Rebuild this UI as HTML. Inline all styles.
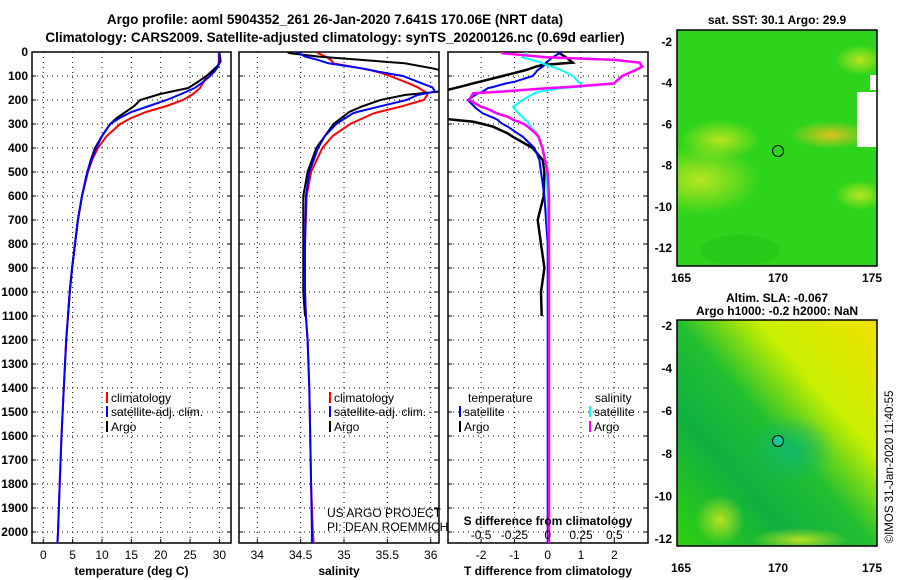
<!DOCTYPE html>
<html><head><meta charset="utf-8"><style>
body{margin:0;background:#fff;}
svg{display:block;font-family:"Liberation Sans",sans-serif;font-weight:bold;}
</style></head><body>
<svg id="c" width="900" height="580" viewBox="0 0 900 580">
<defs>
<radialGradient id="y1"><stop offset="0" stop-color="#d0e820" stop-opacity="0.85"/><stop offset="1" stop-color="#d0e820" stop-opacity="0"/></radialGradient>
<radialGradient id="y2"><stop offset="0" stop-color="#f0c020" stop-opacity="0.9"/><stop offset="1" stop-color="#f0c020" stop-opacity="0"/></radialGradient>
<radialGradient id="t1"><stop offset="0" stop-color="#10b868"/><stop offset="1" stop-color="#10b868" stop-opacity="0"/></radialGradient>
<linearGradient id="sla" x1="1" y1="0" x2="0" y2="1"><stop offset="0" stop-color="#f0e000"/><stop offset="0.3" stop-color="#c8f000"/><stop offset="0.5" stop-color="#22c030"/><stop offset="0.7" stop-color="#10b040"/><stop offset="1" stop-color="#30d010"/></linearGradient>
<clipPath id="cp1"><rect x="32" y="52" width="199" height="491"/></clipPath>
<clipPath id="cp2"><rect x="239" y="52" width="200" height="491"/></clipPath>
<clipPath id="cp3"><rect x="448" y="52" width="200" height="491"/></clipPath>
<clipPath id="m1"><rect x="677" y="30" width="200" height="236"/></clipPath>
<clipPath id="m2"><rect x="677" y="320" width="200" height="226"/></clipPath>
</defs>
<text x="335" y="24" font-size="13.5" text-anchor="middle">Argo profile: aoml 5904352_261 26-Jan-2020 7.641S 170.06E (NRT data)</text>
<text x="335" y="42" font-size="13.5" text-anchor="middle">Climatology: CARS2009. Satellite-adjusted climatology: synTS_20200126.nc (0.69d earlier)</text>
<g id="g"></g>
<g>
<text x="777" y="24" font-size="12" text-anchor="middle">sat. SST: 30.1 Argo: 29.9</text>
<g clip-path="url(#m1)">
<rect x="677" y="30" width="200" height="236" fill="#2ed41c"/>
<ellipse cx="700" cy="180" rx="60" ry="35" fill="url(#y1)"/>
<ellipse cx="720" cy="140" rx="40" ry="20" fill="url(#y1)"/>
<ellipse cx="830" cy="135" rx="40" ry="14" fill="url(#y2)"/>
<ellipse cx="860" cy="60" rx="25" ry="15" fill="url(#y1)"/>
<ellipse cx="860" cy="195" rx="25" ry="15" fill="url(#y1)"/>
<ellipse cx="740" cy="250" rx="40" ry="15" fill="#22c418" opacity="0.6"/>
<rect x="857" y="92" width="20" height="55" fill="#fff"/>
<rect x="870" y="75" width="7" height="15" fill="#fff"/>
</g>
<circle cx="778" cy="151" r="5.5" fill="none" stroke="#000" stroke-width="1"/>
<rect x="677" y="30" width="200" height="236" fill="none" stroke="#000" stroke-width="1.5"/>
</g>
<g>
<text x="777" y="302" font-size="12" text-anchor="middle">Altim. SLA: -0.067</text>
<text x="777" y="315" font-size="12" text-anchor="middle">Argo h1000: -0.2 h2000: NaN</text>
<g clip-path="url(#m2)">
<rect x="677" y="320" width="200" height="226" fill="url(#sla)"/>
<ellipse cx="790" cy="450" rx="45" ry="35" fill="url(#t1)"/>
<ellipse cx="720" cy="520" rx="25" ry="25" fill="url(#y1)"/>
<ellipse cx="800" cy="540" rx="50" ry="12" fill="url(#y1)"/>
</g>
<circle cx="778" cy="441" r="5.5" fill="#10c890" stroke="#000" stroke-width="1"/>
<rect x="677" y="320" width="200" height="226" fill="none" stroke="#000" stroke-width="1.5"/>
</g>
<text transform="translate(893,467) rotate(-90)" font-size="11.5" font-weight="normal" text-anchor="middle">©IMOS 31-Jan-2020 11:40:55</text>
</svg>
<script>
const depthT=[0,20,40,60,80,100,125,150,175,200,225,250,275,300,350,400,450,500,600,700,800,900,1000,1100,1200,1400,1600,1800,2000,2050];
const tClim=[29.9,29.9,29.9,29.8,29,27.8,27.3,26.7,25.5,23.8,21,17.5,15,13.1,10.8,9.3,8.3,7.6,6.6,5.9,5.4,4.9,4.5,4.2,3.9,3.5,3.1,2.8,2.5,2.4];
const tSat=[30,30,30,29.8,29.2,28.4,27.2,25.8,23.5,21,18,15,13,11.4,10,9,8.2,7.5,6.6,5.9,5.4,4.9,4.5,4.2,3.9,3.5,3.1,2.8,2.5,2.4];
const tArgo=[30,30.1,30.2,29.6,28.7,27.8,26.3,24.7,19.9,16.5,15.5,14,12.5,11.4,10,8.8,8.1,7.5,6.6,5.9,5.4,4.9,4.5,4.2];
const depthS=[0,5,19,33,47,68,75,89,100,131,147,165,172,179,200,228,250,256,300,350,400,500,600,800,1000,1100,1200,1400,1600,1800,2000,2050];
const sClim=[34.69,34.7,34.79,34.85,34.88,35.2,35.3,35.45,35.53,35.75,35.85,35.93,35.96,35.96,35.92,35.65,35.4,35.34,35.07,34.87,34.75,34.62,34.57,34.55,34.55,34.56,34.58,34.6,34.61,34.62,34.64,34.65];
const sSat=[34.46,34.48,34.55,34.7,34.82,35.2,35.3,35.5,35.68,35.9,36.02,36.05,35.95,35.85,35.72,35.4,35.15,35.1,34.91,34.78,34.7,34.6,34.56,34.55,34.55,34.56,34.58,34.6,34.61,34.62,34.63,34.63];
const sArgo=[34.35,34.37,34.71,35.2,35.7,36.02,36.1,36.2,36.3,36.4,36.4,36.1,35.9,35.7,35.42,35.2,35.06,35.04,34.88,34.78,34.68,34.58,34.53,34.53,34.53,34.55];
const depthD=[0,5,22,33,44,54,61,75,100,124,131,144,151,165,172,200,228,235,256,270,276,283,290,300,311,339,353,400,450,500,600,700,800,900,1000,1100,1200,1400,1600,1800,2000,2050];
const dtSat=[0.4,0.35,0.15,0.05,-0.05,-0.1,-0.15,-0.3,-0.45,-1.0,-1.25,-1.6,-1.8,-1.95,-2.1,-2.4,-2.2,-2.15,-1.95,-1.7,-1.6,-1.5,-1.45,-1.35,-1.2,-0.9,-0.75,-0.4,-0.25,-0.2,-0.1,-0.05,0,0,0,0,0,0,0,0,0,0];
const dtArgo=[0.4,0.35,0.55,0.65,0.75,-0.15,-0.35,-0.65,-1.35,-2.05,-2.25,-2.6,-2.8,-3.2,-3.2,-3.2,-3.2,-3.2,-3.2,-3.2,-3.2,-2.8,-2.25,-1.95,-1.65,-1.2,-1.05,-0.45,-0.15,-0.1,-0.12,-0.3,-0.2,-0.1,-0.2,-0.18];
const dsSat=[-0.16,-0.16,-0.19,-0.12,-0.05,-0.01,0.03,0.1,0.19,0.23,0.25,0.25,0.1,-0.06,-0.1,-0.19,-0.26,-0.25,-0.22,-0.19,-0.18,-0.17,-0.15,-0.14,-0.13,-0.08,-0.07,-0.04,-0.02,-0.01,0,0,0.01,0.01,0.01,0.01,0.01,0.01,0.01,0.01,0.01,0.01];
const dsArgo=[-0.34,-0.34,-0.01,0.5,0.69,0.7,0.71,0.66,0.56,0.51,0.5,0.2,-0.01,-0.35,-0.56,-0.59,-0.5,-0.46,-0.38,-0.3,-0.28,-0.26,-0.22,-0.18,-0.15,-0.09,-0.07,-0.04,-0.02,0,0.01,0.01,0.01,0.01,0.01,0.01,0.01,0.01,0.01,0.01,0.01,0.01];
const depthTicks=[0,100,200,300,400,500,600,700,800,900,1000,1100,1200,1300,1400,1500,1600,1700,1800,1900,2000];
const tTicks=[0,5,10,15,20,25,30];
const sTicks=[34,34.5,35,35.5,36];
const dTicks=[-2,-1,0,1,2];
const dsTicks=[-0.5,-0.25,0,0.25,0.5];

const NS='http://www.w3.org/2000/svg';
const G=document.getElementById('g');
const BOT=543;
const Y=d=>52+d*0.24;
const xT=t=>43.3+t*5.87, xS=s=>257.3+(s-34)*86.7, xD=d=>547.7+d*33.3, xDS=s=>547.7+s*133.2;
function mk(tag,at,par){const e=document.createElementNS(NS,tag);for(const k in at)e.setAttribute(k,at[k]);(par||G).appendChild(e);return e;}
const panels=[{x0:32,x1:231,fx:xT,ticks:tTicks,lab:'temperature (deg C)',name:'temperature'},
{x0:239,x1:439,fx:xS,ticks:sTicks,lab:'salinity',name:'salinity'},
{x0:448,x1:648,fx:xD,ticks:dTicks,lab:'T difference from climatology',name:'difference'}];
panels.forEach(p=>{
 const grp=mk('g',{});
 
 
 depthTicks.forEach(d=>{
  if(d>0){mk('line',{x1:p.x0,x2:p.x1,y1:Y(d),y2:Y(d),stroke:'#000','stroke-dasharray':'1 4','stroke-width':1},grp);}
  mk('line',{x1:p.x0,x2:p.x0+4,y1:Y(d),y2:Y(d),stroke:'#000'},grp);
  mk('line',{x1:p.x1-4,x2:p.x1,y1:Y(d),y2:Y(d),stroke:'#000'},grp);
 });
 p.ticks.forEach(t=>{
  const x=p.fx(t);
  mk('line',{x1:x,x2:x,y1:52,y2:BOT,stroke:'#000','stroke-dasharray':'1 4'},grp);
  mk('line',{x1:x,x2:x,y1:BOT,y2:BOT-4,stroke:'#000'},grp);
  const tx=mk('text',{x:x,y:559,'font-size':12,'font-weight':'normal','text-anchor':'middle'},grp);
  tx.textContent=t;
  
  
 });
 mk('rect',{x:p.x0,y:52,width:p.x1-p.x0,height:BOT-52,fill:'none',stroke:'#000','stroke-width':1.5},grp);
 const at=mk('text',{x:(p.x0+p.x1)/2,y:575,'font-size':12,'text-anchor':'middle'},grp);
 at.textContent=p.lab;
 
 
});
depthTicks.forEach(d=>{
 const t=mk('text',{x:28,y:Y(d)+4,'font-size':12,'text-anchor':'end'});
 t.textContent=d;
 
 
});
function line(dep,vals,fx,col,cp,name,w){
 const pts=vals.map((v,i)=>fx(v).toFixed(1)+','+Y(dep[i]).toFixed(1)).join(' ');
 const l=mk('polyline',{points:pts,fill:'none',stroke:col,'stroke-width':w||2,'clip-path':'url(#'+cp+')'});
 
 
}
line(depthT,tClim,xT,'#f00','cp1','temp-climatology-line');
line(depthT,tArgo,xT,'#000','cp1','temp-argo-line');
line(depthT,tSat,xT,'#00f','cp1','temp-satellite-line');
line(depthS,sClim,xS,'#f00','cp2','sal-climatology-line');
line(depthS,sArgo,xS,'#000','cp2','sal-argo-line');
line(depthS,sSat,xS,'#00f','cp2','sal-satellite-line');
line(depthD,dtArgo,xD,'#000','cp3','tdiff-argo-line',2.5);
line(depthD,dtSat,xD,'#00f','cp3','tdiff-satellite-line');
line(depthD,dsSat,xDS,'#0ff','cp3','sdiff-satellite-line');
line(depthD,dsArgo,xDS,'#f0f','cp3','sdiff-argo-line',2.5);
dsTicks.forEach(s=>{
 const t=mk('text',{x:xDS(s),y:539,'font-size':12,'font-weight':'normal','text-anchor':'middle'});
 t.textContent=s;
 
 
});
const st=mk('text',{x:548,y:525,'font-size':12,'text-anchor':'middle'});
st.textContent='S difference from climatology';


function legend(x,y,col,txt){
 mk('line',{x1:x,x2:x,y1:y-10,y2:y+1,stroke:col,'stroke-width':2});
 const t=mk('text',{x:x+4,y:y,'font-size':12,'font-weight':'normal'});
 t.textContent=txt;
 
 
}
legend(107,402,'#f00','climatology');legend(107,416,'#00f','satellite-adj. clim.');legend(107,431,'#000','Argo');
legend(330,402,'#f00','climatology');legend(330,416,'#00f','satellite-adj. clim.');legend(330,431,'#000','Argo');
legend(460,416,'#00f','satellite');legend(460,431,'#000','Argo');
legend(590,416,'#0ff','satellite');legend(590,431,'#f0f','Argo');
[[468,402,'temperature'],[595,402,'salinity'],[327,517,'US ARGO PROJECT'],[327,531,'PI: DEAN ROEMMICH']].forEach(a=>{
 const t=mk('text',{x:a[0],y:a[1],'font-size':12,'font-weight':'normal'});
 t.textContent=a[2];
 
 
});
function mapAxes(y1,latTop,latBot,ylab){
 [-2,-4,-6,-8,-10,-12].forEach(l=>{
  const y=latTop+(l+2)/(-10)*(latBot-latTop);
  mk('line',{x1:677,x2:681,y1:y,y2:y,stroke:'#000'});mk('line',{x1:873,x2:877,y1:y,y2:y,stroke:'#000'});
  const t=mk('text',{x:672,y:y+4,'font-size':12,'text-anchor':'end'});
  t.textContent=l;
  
  
 });
 [[165,681],[170,778],[175,872]].forEach(a=>{
  mk('line',{x1:a[1],x2:a[1],y1:y1,y2:y1-4,stroke:'#000'});
  const t=mk('text',{x:a[1],y:ylab,'font-size':12,'text-anchor':'middle'});
  t.textContent=a[0];
  
  
 });
}
mapAxes(266,42,248,282);
mapAxes(546,326,539,572);
</script>
</body></html>
